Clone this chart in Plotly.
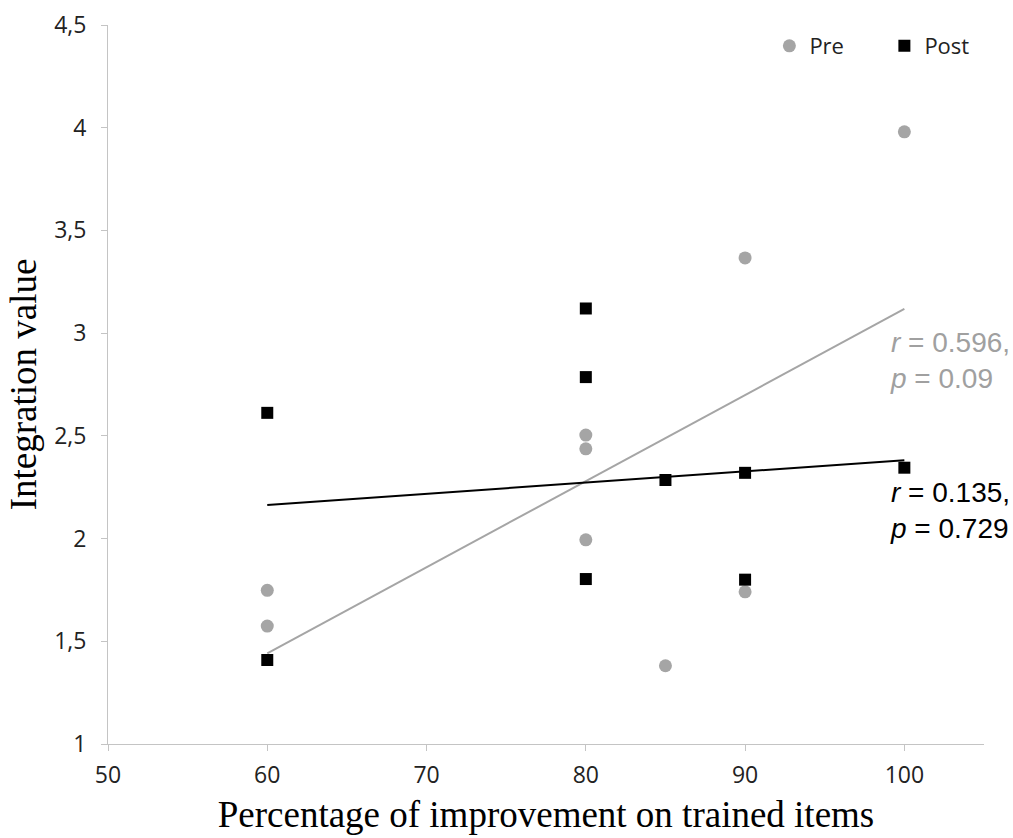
import numpy as np
import plotly.graph_objects as go

# ---- data ----
pre_x = [60, 60, 80, 80, 80, 85, 90, 90, 100]
pre_y = [1.748, 1.574, 2.504, 2.437, 1.994, 1.381, 3.366, 1.741, 3.98]
post_x = [60, 60, 80, 80, 80, 85, 90, 90, 100]
post_y = [2.612, 1.409, 3.12, 2.786, 1.803, 2.285, 2.32, 1.80, 2.345]

x_ticks = [50, 60, 70, 80, 90, 100]
y_ticks = [1, 1.5, 2, 2.5, 3, 3.5, 4, 4.5]
y_tick_text = ["1", "1,5", "2", "2,5", "3", "3,5", "4", "4,5"]

pre_stats = "<i>r</i> = 0.596,<br><i>p</i> = 0.09"
post_stats = "<i>r</i> = 0.135,<br><i>p</i> = 0.729"

GRAY = "#a5a5a5"
AXIS = "#c4c4c4"
TICKFONT = dict(family="Open Sans", size=23, color="#222222")

# linear trend lines (least squares) over the data range
def trend(xs, ys):
    k, b = np.polyfit(xs, ys, 1)
    xx = np.array([min(xs), max(xs)])
    return xx, k * xx + b

pre_tx, pre_ty = trend(pre_x, pre_y)
post_tx, post_ty = trend(post_x, post_y)

fig = go.Figure()
fig.add_trace(go.Scatter(x=pre_tx, y=pre_ty, mode="lines",
                         line=dict(color=GRAY, width=2), showlegend=False,
                         hoverinfo="skip"))
fig.add_trace(go.Scatter(x=post_tx, y=post_ty, mode="lines",
                         line=dict(color="black", width=2), showlegend=False,
                         hoverinfo="skip"))
fig.add_trace(go.Scatter(x=pre_x, y=pre_y, mode="markers", name="Pre",
                         marker=dict(symbol="circle", size=13, color=GRAY)))
fig.add_trace(go.Scatter(x=post_x, y=post_y, mode="markers", name="Post",
                         marker=dict(symbol="square", size=12, color="black")))

fig.add_annotation(x=98.95, y=2.869, xref="x", yref="y", text=pre_stats,
                   showarrow=False, xanchor="left", yanchor="middle", align="left",
                   font=dict(family="Liberation Sans", size=28, color="#a0a0a0"))
fig.add_annotation(x=98.95, y=2.139, xref="x", yref="y", text=post_stats,
                   showarrow=False, xanchor="left", yanchor="middle", align="left",
                   font=dict(family="Liberation Sans", size=28, color="black"))

fig.update_layout(
    width=1013, height=838,
    margin=dict(l=108, r=29, t=25, b=94, autoexpand=False),
    paper_bgcolor="white", plot_bgcolor="white",
    showlegend=True,
    legend=dict(orientation="h", x=0.755, y=1.0, xanchor="left", yanchor="top",
                font=dict(family="Open Sans", size=22, color="#222222"),
                entrywidth=70, entrywidthmode="pixels",
                bgcolor="rgba(0,0,0,0)"),
    xaxis=dict(range=[50, 105], tickvals=x_ticks, showgrid=False, zeroline=False,
               showline=True, linecolor=AXIS, linewidth=1,
               ticks="outside", ticklen=6, tickcolor=AXIS,
               tickfont=TICKFONT, ticklabelstandoff=4, automargin=False,
               title=dict(text="Percentage of improvement on trained items",
                          font=dict(family="Liberation Serif", size=37, color="black"),
                          standoff=12)),
    yaxis=dict(range=[1, 4.5], tickvals=y_ticks, ticktext=y_tick_text,
               showgrid=False, zeroline=False,
               showline=True, linecolor=AXIS, linewidth=1,
               ticks="outside", ticklen=6, tickcolor=AXIS,
               tickfont=TICKFONT, ticklabelstandoff=10, automargin=False,
               title=dict(text="Integration value",
                          font=dict(family="Liberation Serif", size=37, color="black"),
                          standoff=6)),
)

fig.write_html("out.html")
